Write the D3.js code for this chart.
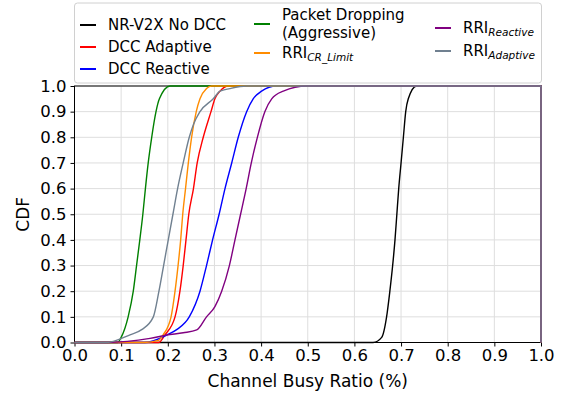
<!DOCTYPE html>
<html>
<head>
  <meta charset="utf-8">
  <title>CBR CDF</title>
  <style>
    body { margin: 0; background: #fff; }
    text { font-family: "DejaVu Sans", sans-serif; fill: #000; }
  </style>
</head>
<body>
  <svg></svg>
  <script src="https://d3js.org/d3.v7.min.js"></script>
  <script>
    // [channel busy ratio, CDF] points
    const noDcc = [[0.64, 0], [0.6585, 0.02], [0.669, 0.1], [0.676, 0.2], [0.682, 0.3], [0.687, 0.4],
      [0.691, 0.5], [0.695, 0.6], [0.700, 0.7], [0.705, 0.8], [0.710, 0.9], [0.7155, 0.95], [0.7335, 1]];
    const dccAdaptive = [[0.18, 0], [0.194, 0.03], [0.2155, 0.1], [0.226, 0.2], [0.233, 0.3], [0.239, 0.4],
      [0.245, 0.5], [0.255, 0.6], [0.263, 0.7], [0.276, 0.8], [0.2926, 0.9], [0.301, 0.95], [0.312, 0.98], [0.33, 1]];
    const dccReactive = [[0.15, 0], [0.1976, 0.029], [0.219, 0.05], [0.246, 0.1], [0.269, 0.2], [0.283, 0.3],
      [0.296, 0.4], [0.31, 0.5], [0.3226, 0.6], [0.337, 0.7], [0.351, 0.8], [0.369, 0.9], [0.383, 0.95],
      [0.401, 0.98], [0.433, 1]];
    const packetDropping = [[0.092, 0], [0.1, 0.02], [0.115, 0.1], [0.126, 0.2], [0.133, 0.3], [0.140, 0.4],
      [0.1465, 0.5], [0.152, 0.6], [0.158, 0.7], [0.1655, 0.8], [0.1747, 0.9], [0.182, 0.95], [0.205, 1]];
    const rriCrLimit = [[0.15, 0], [0.18, 0.008], [0.19, 0.03], [0.207, 0.1], [0.2155, 0.2], [0.222, 0.3],
      [0.2276, 0.4], [0.232, 0.5], [0.238, 0.6], [0.244, 0.7], [0.251, 0.8], [0.261, 0.9], [0.269, 0.95],
      [0.283, 0.99], [0.294, 1]];
    const rriReactive = [[0.069, 0], [0.162, 0.016], [0.1976, 0.029], [0.233, 0.038], [0.262, 0.049],
      [0.283, 0.1], [0.301, 0.14], [0.3155, 0.2], [0.332, 0.3], [0.344, 0.4], [0.356, 0.5], [0.368, 0.6],
      [0.379, 0.7], [0.392, 0.8], [0.408, 0.9], [0.4227, 0.95], [0.4476, 0.98], [0.498, 1]];
    const rriAdaptive = [[0.069, 0], [0.119, 0.03], [0.144, 0.05], [0.169, 0.1], [0.181, 0.2], [0.191, 0.3],
      [0.201, 0.4], [0.211, 0.5], [0.221, 0.6], [0.233, 0.7], [0.246, 0.8], [0.255, 0.85], [0.269, 0.9],
      [0.2975, 0.95], [0.312, 0.98], [0.333, 0.99], [0.369, 1]];

    const names = ["NR-V2X No DCC", "DCC Adaptive", "DCC Reactive", "Packet Dropping", "RRI_CR_Limit",
      "RRI_Reactive", "RRI_Adaptive"];
    const colors = ["#000000", "#ff0000", "#0000ff", "#008000", "#ff8c00", "#800080", "#708090"];
    const seriesValues = [noDcc, dccAdaptive, dccReactive, packetDropping, rriCrLimit, rriReactive, rriAdaptive];
    const ticks = d3.range(0, 11).map(i => i / 10);

    const width = 571, height = 395;
    const margin = { left: 74.5, right: 30, top: 86, bottom: 52.5 };

    const x = d3.scaleLinear([0, 1], [margin.left, width - margin.right]);
    const y = d3.scaleLinear([0, 1], [height - margin.bottom, margin.top]);

    const svg = d3.select("svg")
      .attr("width", width)
      .attr("height", height)
      .attr("viewBox", [0, 0, width, height]);

    // grid
    const grid = svg.append("g").attr("stroke", "#dedede").attr("stroke-width", 1);
    grid.selectAll("line.v").data(ticks).join("line")
      .attr("x1", d => x(d)).attr("x2", d => x(d))
      .attr("y1", y(0)).attr("y2", y(1));
    grid.selectAll("line.h").data(ticks).join("line")
      .attr("x1", x(0)).attr("x2", x(1))
      .attr("y1", d => y(d)).attr("y2", d => y(d));

    // axes
    const xAxis = svg.append("g")
      .attr("transform", `translate(0,${y(0)})`)
      .call(d3.axisBottom(x).tickValues(ticks).tickFormat(d3.format(".1f")).tickSizeOuter(0).tickSize(4).tickPadding(3));
    const yAxis = svg.append("g")
      .attr("transform", `translate(${x(0)},0)`)
      .call(d3.axisLeft(y).tickValues(ticks).tickFormat(d3.format(".1f")).tickSizeOuter(0).tickSize(4).tickPadding(4));
    [xAxis, yAxis].forEach(g => {
      g.select(".domain").remove();
      g.selectAll("text").attr("font-size", 16.5).attr("font-family", "DejaVu Sans");
      g.selectAll("line").attr("stroke", "#000").attr("stroke-width", 1);
    });

    // frame
    svg.append("rect")
      .attr("x", x(0)).attr("y", y(1))
      .attr("width", x(1) - x(0)).attr("height", y(0) - y(1))
      .attr("fill", "none").attr("stroke", "#000").attr("stroke-width", 1);

    // curves
    const line = d3.line()
      .x(d => x(d[0]))
      .y(d => y(d[1]))
      .curve(d3.curveMonotoneX);

    svg.append("g")
      .selectAll("path")
      .data(seriesValues)
      .join("path")
      .attr("fill", "none")
      .attr("stroke", (d, i) => colors[i])
      .attr("stroke-width", 1.4)
      .attr("d", d => line([[0, 0], ...d, [1, 1]]) + `L${x(1)},${y(0)}`);

    // axis labels
    svg.append("text")
      .attr("x", (x(0) + x(1)) / 2).attr("y", 387)
      .attr("text-anchor", "middle").attr("font-size", 17)
      .text("Channel Busy Ratio (%)");
    svg.append("text")
      .attr("transform", `translate(29,${(y(0) + y(1)) / 2}) rotate(-90)`)
      .attr("text-anchor", "middle").attr("font-size", 17)
      .text("CDF");

    // legend
    const legend = svg.append("g");
    legend.append("rect")
      .attr("x", 74.5).attr("y", 3).attr("width", 467).attr("height", 80)
      .attr("rx", 3).attr("fill", "#fff").attr("fill-opacity", 0.85)
      .attr("stroke", "#d0d0d0").attr("stroke-width", 1);

    const entries = [
      { i: 0, hx: 80, ty: 25 },
      { i: 1, hx: 80, ty: 47 },
      { i: 2, hx: 80, ty: 69 },
      { i: 3, hx: 254, ty: 24 },
      { i: 4, hx: 254, ty: 53 },
      { i: 5, hx: 435, ty: 28 },
      { i: 6, hx: 435, ty: 51 }
    ];
    entries.forEach(e => {
      const g = legend.append("g");
      g.append("line")
        .attr("x1", e.hx).attr("x2", e.hx + 16)
        .attr("y1", e.ty).attr("y2", e.ty)
        .attr("stroke", colors[e.i]).attr("stroke-width", 2);
      const tx = e.hx + 28;
      const name = names[e.i];
      if (e.i === 3) {
        g.append("text").attr("x", tx).attr("y", 15).attr("dy", "0.35em")
          .attr("font-size", 15).text("Packet Dropping");
        g.append("text").attr("x", tx).attr("y", 33).attr("dy", "0.35em")
          .attr("font-size", 15).text("(Aggressive)");
      } else if (name.startsWith("RRI_")) {
        const t = g.append("text").attr("x", tx).attr("y", e.ty).attr("dy", "0.35em").attr("font-size", 15);
        t.append("tspan").text("RRI");
        t.append("tspan").attr("font-size", 10.5).attr("font-style", "italic").attr("dy", 3)
          .text(name.slice(4));
      } else {
        g.append("text").attr("x", tx).attr("y", e.ty).attr("dy", "0.35em")
          .attr("font-size", 15).text(name);
      }
    });
  </script>
</body>
</html>
